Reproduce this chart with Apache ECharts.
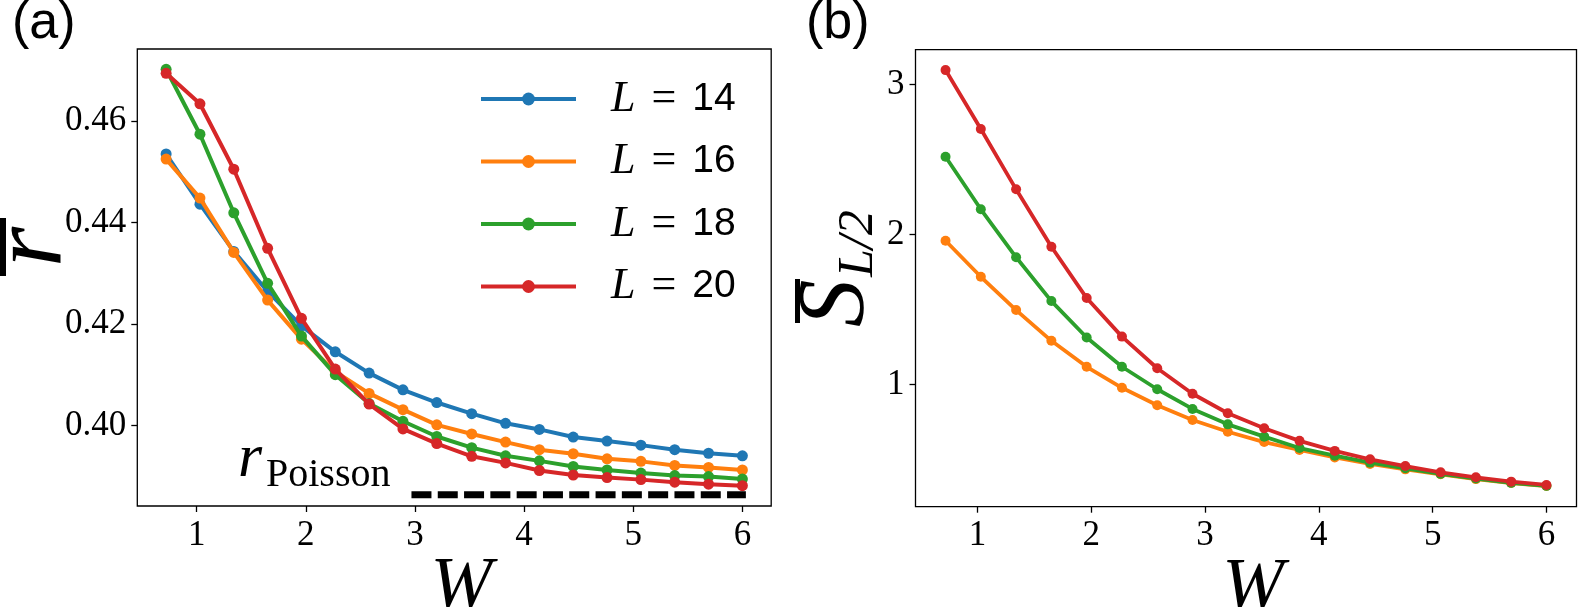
<!DOCTYPE html>
<html>
<head>
<meta charset="utf-8">
<script src="https://cdn.jsdelivr.net/npm/echarts@6/dist/echarts.min.js"></script>
<style>
  html, body { margin: 0; padding: 0; background: #fff; }
  #chart { width: 1578px; height: 607px; }
</style>
</head>
<body>
<div id="chart"></div>
<script>
// disorder strength W (shared by both panels)
const W = [0.72, 1.03, 1.34, 1.65, 1.96, 2.27, 2.58, 2.89, 3.20, 3.52, 3.83, 4.14, 4.45, 4.76, 5.07, 5.38, 5.69, 6.00];

// panel (a): mean gap ratio r
const rL14 = [0.4535, 0.4436, 0.4343, 0.4264, 0.4196, 0.4145, 0.4103, 0.4070, 0.4045, 0.4023, 0.4004, 0.3992, 0.3977, 0.3969, 0.3961, 0.3952, 0.3945, 0.3940];
const rL16 = [0.4525, 0.4448, 0.4341, 0.4247, 0.4170, 0.4106, 0.4063, 0.4031, 0.4001, 0.3983, 0.3967, 0.3952, 0.3944, 0.3934, 0.3929, 0.3921, 0.3917, 0.3912];
const rL18 = [0.4702, 0.4574, 0.4419, 0.4280, 0.4176, 0.4100, 0.4043, 0.4008, 0.3978, 0.3956, 0.3940, 0.3930, 0.3919, 0.3912, 0.3906, 0.3901, 0.3899, 0.3894];
const rL20 = [0.4694, 0.4634, 0.4505, 0.4349, 0.4211, 0.4111, 0.4042, 0.3993, 0.3964, 0.3939, 0.3926, 0.3911, 0.3902, 0.3897, 0.3893, 0.3888, 0.3884, 0.3881];

// Poisson reference line
const rPoisson = 0.3863;
const poissonW = [3, 6];

// panel (b): mean half-chain entanglement entropy
const sL16 = [1.957, 1.717, 1.495, 1.290, 1.117, 0.977, 0.860, 0.762, 0.684, 0.615, 0.562, 0.512, 0.469, 0.433, 0.400, 0.368, 0.342, 0.322];
const sL18 = [2.517, 2.167, 1.847, 1.555, 1.312, 1.117, 0.967, 0.836, 0.733, 0.651, 0.575, 0.524, 0.478, 0.440, 0.403, 0.372, 0.343, 0.323];
const sL20 = [3.095, 2.702, 2.300, 1.917, 1.575, 1.318, 1.107, 0.937, 0.807, 0.707, 0.623, 0.556, 0.500, 0.455, 0.413, 0.380, 0.351, 0.329];

const xTicks = [1, 2, 3, 4, 5, 6];
const rTicks = [0.40, 0.42, 0.44, 0.46];
const sTicks = [1, 2, 3];

const names = ["L = 14", "L = 16", "L = 18", "L = 20"];
const colors = ["#1f77b4", "#ff7f0e", "#2ca02c", "#d62728"];

const SERIF = "Liberation Serif";
const SANS = "Liberation Sans";

function pairs(ys) {
    return W.map((w, i) => [w, ys[i]]);
}

function xAxisFor(gridIndex) {
    return {
        type: "value",
        gridIndex: gridIndex,
        min: 0.456,
        max: 6.264,
        name: "W",
        nameLocation: "middle",
        nameGap: 46,
        nameMoveOverlap: false,
        nameTextStyle: { fontFamily: SERIF, fontStyle: "italic", fontSize: 74, color: "#000", padding: [0, 0, 0, 14] },
        axisLine: { show: false },
        splitLine: { show: false },
        axisTick: { customValues: xTicks, length: 6, lineStyle: { color: "#000", width: 1.3 } },
        axisLabel: { customValues: xTicks, margin: 12, fontFamily: SERIF, fontSize: 35, color: "#000" }
    };
}

function yAxisFor(gridIndex, min, max, ticks, fmt) {
    return {
        type: "value",
        gridIndex: gridIndex,
        min: min,
        max: max,
        axisLine: { show: false },
        splitLine: { show: false },
        axisTick: { customValues: ticks, length: 6, lineStyle: { color: "#000", width: 1.3 } },
        axisLabel: {
            customValues: ticks, margin: 11, fontFamily: SERIF, fontSize: 35, color: "#000",
            formatter: fmt
        }
    };
}

function lineSeries(name, ys, color, axisIndex, z, width, size) {
    return {
        name: name,
        type: "line",
        xAxisIndex: axisIndex,
        yAxisIndex: axisIndex,
        data: pairs(ys),
        z: z,
        symbol: "circle",
        symbolSize: size,
        showAllSymbol: true,
        itemStyle: { color: color },
        lineStyle: { color: color, width: width },
        emphasis: { disabled: true },
        animation: false
    };
}

const chart = echarts.init(document.getElementById("chart"), null, { renderer: "canvas" });

const option = {
    animation: false,
    backgroundColor: "#fff",
    grid: [
        { left: 137.3, top: 49, width: 633.9, height: 457, show: true, borderColor: "#000", borderWidth: 1.3, outerBoundsMode: "none" },
        { left: 915.5, top: 49.7, width: 661, height: 457, show: true, borderColor: "#000", borderWidth: 1.3, outerBoundsMode: "none" }
    ],
    xAxis: [xAxisFor(0), xAxisFor(1)],
    yAxis: [
        yAxisFor(0, 0.3841, 0.4742, rTicks, v => v.toFixed(2)),
        yAxisFor(1, 0.184, 3.231, sTicks, v => String(v))
    ],
    legend: {
        data: names,
        orient: "vertical",
        left: 479,
        top: 74,
        padding: 0,
        itemWidth: 95,
        itemHeight: 16,
        itemGap: 12.5,
        selectedMode: false,
        lineStyle: { width: 4 },
        textStyle: {
            lineHeight: 50,
            padding: [0, 0, 0, 30],
            rich: {
                l: { fontFamily: SERIF, fontStyle: "italic", fontSize: 44, color: "#000", padding: [0, 16, 0, 0] },
                e: { fontFamily: SERIF, fontSize: 44, color: "#000", padding: [0, 16, 0, 0] },
                n: { fontFamily: SANS, fontSize: 39, color: "#000" }
            }
        },
        formatter: name => `{l|L}{e|=}{n|${name.split("= ")[1]}}`
    },
    series: [
        lineSeries(names[0], rL14, colors[0], 0, 2, 4, 11),
        lineSeries(names[1], rL16, colors[1], 0, 3, 4, 11),
        lineSeries(names[2], rL18, colors[2], 0, 4, 4, 11),
        lineSeries(names[3], rL20, colors[3], 0, 5, 4, 11),
        {
            type: "line",
            xAxisIndex: 0,
            yAxisIndex: 0,
            data: poissonW.map(w => [w, rPoisson]),
            showSymbol: false,
            silent: true,
            z: 6,
            lineStyle: { color: "#000", width: 7, type: [13, 13.3], cap: "square" }
        },
        lineSeries(names[1], sL16, colors[1], 1, 3, 3.8, 10),
        lineSeries(names[2], sL18, colors[2], 1, 4, 3.8, 10),
        lineSeries(names[3], sL20, colors[3], 1, 5, 3.8, 10)
    ],
    graphic: [
        { type: "text", left: 12, top: -2, style: { text: "(a)", font: `52px "${SANS}"`, fill: "#000" } },
        { type: "text", left: 806, top: -2, style: { text: "(b)", font: `52px "${SANS}"`, fill: "#000" } },
        // r_Poisson annotation
        { type: "text", x: 238, y: 460, style: { text: "r", font: `italic 62px "${SERIF}"`, fill: "#000", align: "left", verticalAlign: "middle" } },
        { type: "text", x: 266, y: 475, style: { text: "Poisson", font: `40px "${SERIF}"`, fill: "#000", align: "left", verticalAlign: "middle" } },
        // y label (a): r with overline, rotated
        {
            type: "group", x: 43, y: 247, rotation: Math.PI / 2,
            children: [
                { type: "text", x: 0, y: -9, style: { text: "r", font: `italic 104px "${SERIF}"`, fill: "#000", align: "center", verticalAlign: "middle" } },
                { type: "rect", shape: { x: -29, y: -43, width: 58, height: 6 }, style: { fill: "#000" } }
            ]
        },
        // y label (b): S_{L/2} with overline, rotated
        {
            type: "group", x: 840, y: 265, rotation: Math.PI / 2,
            children: [
                { type: "text", x: -62, y: -2, style: { text: "S", font: `italic 95px "${SERIF}"`, fill: "#000", align: "left", verticalAlign: "middle" } },
                { type: "text", x: -12, y: 18.5, style: { text: "L/2", font: `italic 50px "${SERIF}"`, fill: "#000", align: "left", verticalAlign: "middle" } },
                { type: "rect", shape: { x: -58, y: -45, width: 44, height: 5 }, style: { fill: "#000" } }
            ]
        }
    ]
};

chart.setOption(option);
</script>
</body>
</html>
